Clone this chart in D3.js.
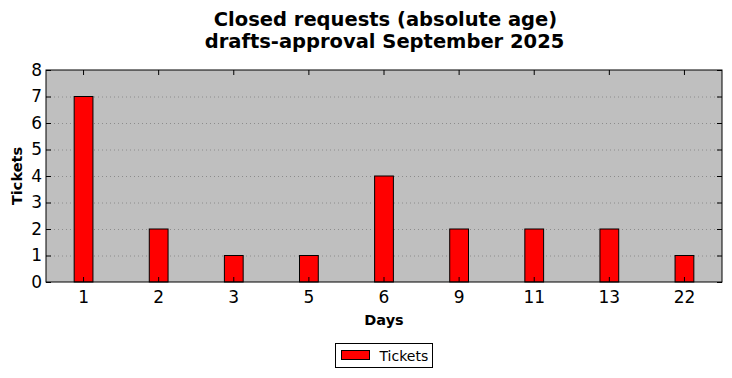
<!DOCTYPE html>
<html>
<head>
<meta charset="utf-8">
<script src="https://cdn.jsdelivr.net/npm/d3@7"></script>
<style>
  body { margin: 0; background: #fff; }
  svg { font-family: "DejaVu Sans", sans-serif; }
</style>
</head>
<body>
<div id="chart"></div>
<script>
var days = ["1", "2", "3", "5", "6", "9", "11", "13", "22"]
var tickets = [7, 2, 1, 1, 4, 2, 2, 2, 1]
var yTicks = [0, 1, 2, 3, 4, 5, 6, 7, 8]

var W = 732, H = 378
var margin = { top: 70, right: 10, bottom: 96, left: 46 }
var width = W - margin.left - margin.right
var height = H - margin.top - margin.bottom

var root = d3.select("#chart").append("svg")
  .attr("width", W)
  .attr("height", H)

// title
var title = root.append("text")
  .attr("text-anchor", "middle")
  .attr("font-weight", "bold")
  .attr("font-size", 19.5)
title.append("tspan").attr("x", 385.5).attr("y", 26).text("Closed requests (absolute age)")
title.append("tspan").attr("x", 384.5).attr("y", 48).text("drafts-approval September 2025")

var svg = root.append("g")
  .attr("transform", "translate(" + margin.left + "," + margin.top + ")")

svg.append("rect")
  .attr("width", width)
  .attr("height", height)
  .attr("fill", "#bfbfbf")

var x = d3.scaleBand()
  .domain(days)
  .range([0, width])

var y = d3.scaleLinear()
  .domain([0, 8])
  .range([height, 0])

// grid
svg.selectAll(".grid").data(yTicks.slice(1, -1))
  .enter().append("line")
  .attr("class", "grid")
  .attr("x1", 0).attr("x2", width)
  .attr("y1", function (d) { return y(d) + 0.5 })
  .attr("y2", function (d) { return y(d) + 0.5 })
  .attr("stroke", "#8c8c8c")
  .attr("stroke-dasharray", "1,3")

// bars
var bw = x.bandwidth() * 0.25
svg.selectAll(".bar").data(days)
  .enter().append("rect")
  .attr("class", "bar")
  .attr("x", function (d) { return x(d) + x.bandwidth() / 2 - bw / 2 })
  .attr("width", bw)
  .attr("y", function (d, i) { return y(tickets[i]) })
  .attr("height", function (d, i) { return height - y(tickets[i]) })
  .attr("fill", "#ff0000")
  .attr("stroke", "#000")
  .attr("stroke-width", 1)

// axes
var xAxis = svg.append("g")
  .attr("transform", "translate(0," + height + ")")
  .call(d3.axisBottom(x).tickSizeInner(-5).tickSizeOuter(0).tickPadding(9))
var xTop = svg.append("g")
  .call(d3.axisTop(x).tickSizeInner(-5).tickSizeOuter(0).tickFormat(""))
var yAxis = svg.append("g")
  .call(d3.axisLeft(y).tickValues(yTicks).tickFormat(d3.format("d")).tickSizeInner(-5).tickSizeOuter(0).tickPadding(4))
var yRight = svg.append("g")
  .attr("transform", "translate(" + width + ",0)")
  .call(d3.axisRight(y).tickValues(yTicks).tickSizeInner(-5).tickSizeOuter(0).tickFormat(""))

root.selectAll(".domain").remove()
root.selectAll(".tick text").attr("font-size", 17).attr("fill", "#000").attr("font-family", "DejaVu Sans")
root.selectAll(".tick line").attr("stroke", "#000")

svg.append("rect")
  .attr("width", width)
  .attr("height", height)
  .attr("fill", "none")
  .attr("stroke", "#000")
  .attr("stroke-width", 1)

// axis labels
root.append("text")
  .attr("x", margin.left + width / 2)
  .attr("y", 325)
  .attr("text-anchor", "middle")
  .attr("font-weight", "bold")
  .attr("font-size", 14.5)
  .text("Days")
root.append("text")
  .attr("transform", "translate(22," + (margin.top + height / 2) + ") rotate(-90)")
  .attr("text-anchor", "middle")
  .attr("font-weight", "bold")
  .attr("font-size", 14.5)
  .text("Tickets")

// legend
var leg = root.append("g").attr("transform", "translate(335.5,343.5)")
leg.append("rect").attr("width", 97).attr("height", 24).attr("fill", "#fff").attr("stroke", "#000")
leg.append("rect").attr("x", 6).attr("y", 7).attr("width", 28).attr("height", 9)
  .attr("fill", "#ff0000").attr("stroke", "#000")
leg.append("text").attr("x", 44).attr("y", 17).attr("font-size", 14).text("Tickets")
</script>
</body>
</html>
